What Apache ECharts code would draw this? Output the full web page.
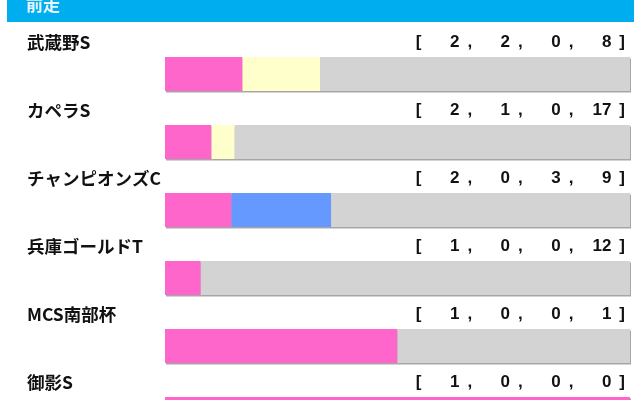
<!DOCTYPE html>
<html><head><meta charset="utf-8">
<script src="https://cdn.jsdelivr.net/npm/echarts@6/dist/echarts.min.js"></script>
<style>html,body{margin:0;padding:0;background:#fff}#c{width:640px;height:400px}</style>
</head><body><div id="c"></div>
<script>
const title = '前走';
const races = ['武蔵野S', 'カペラS', 'チャンピオンズC', '兵庫ゴールドT', 'MCS南部杯', '御影S'];
const firsts = [2, 2, 2, 1, 1, 1];
const seconds = [2, 1, 0, 0, 0, 0];
const thirds = [0, 0, 3, 0, 0, 0];
const others = [8, 17, 9, 12, 1, 0];
const seriesNames = ['1着', '2着', '3着', '着外'];
const colors = ['#FF66CC', '#FFFFCC', '#6699FF', '#D3D3D3'];

const totals = races.map((_, i) => firsts[i] + seconds[i] + thirds[i] + others[i]);
const pct = arr => arr.map((v, i) => v / totals[i] * 100);
const groups = [firsts, seconds, thirds, others];

const pad2 = v => (String(v).length < 2 ? '\u2007' : '') + v;
const recFmt = v => {
  const i = races.indexOf(v);
  return '{b|[}{f|' + pad2(firsts[i]) + '}{c|,}{n|' + pad2(seconds[i]) + '}{c|,}{n|' + pad2(thirds[i]) + '}{c|,}{n|' + pad2(others[i]) + '}{e|]}';
};
const recStyle = { fontFamily: 'Liberation Sans', fontWeight: 'bold', fontSize: 17, color: '#111' };
const chart = echarts.init(document.getElementById('c'));
chart.setOption({
  animation: false,
  graphic: [{ type: 'rect', shape: { x: 7, y: 0, width: 627, height: 22 }, style: { fill: '#00AEEF' } }],
  title: { text: title, left: 21, top: -9, textStyle: { color: '#EAF6FF', fontSize: 17, fontWeight: 'bold', fontFamily: 'Noto Sans CJK JP' } },
  grid: { left: 165, width: 465, top: 40, height: 408, outerBoundsMode: 'none', containLabel: false },
  xAxis: { type: 'value', min: 0, max: 100, show: false },
  yAxis: [{
    type: 'category', data: races, inverse: true,
    axisLine: { show: false }, axisTick: { show: false }, splitLine: { show: false },
    axisLabel: { interval: 0, align: 'left', margin: 138, verticalAlign: 'middle', padding: [0, 0, 64, 0],
      formatter: v => '{t|' + v + '}',
      rich: { t: { fontFamily: 'Noto Sans CJK JP', fontWeight: 'bold', fontSize: 17.5, color: '#111' } } }
  }, {
    type: 'category', data: races, inverse: true, position: 'right',
    axisLine: { show: false }, axisTick: { show: false }, splitLine: { show: false },
    axisLabel: { interval: 0, align: 'right', margin: -5, verticalAlign: 'middle', padding: [0, 0, 64, 0],
      formatter: recFmt,
      rich: {
        b: Object.assign({}, recStyle),
        f: Object.assign({ padding: [0, 0, 0, 19] }, recStyle),
        n: Object.assign({ padding: [0, 0, 0, 19] }, recStyle),
        c: Object.assign({ padding: [0, 0, 0, 8] }, recStyle),
        e: Object.assign({ padding: [0, 0, 0, 8] }, recStyle)
      }
    }
  }],
  series: groups.map((g, k) => ({
    type: 'bar', name: seriesNames[k], stack: 'all', data: pct(g), barWidth: 34,
    itemStyle: { color: colors[k], shadowColor: 'rgba(0,0,0,0.35)', shadowOffsetX: 1, shadowOffsetY: 1.5, shadowBlur: 0 },
    silent: true
  }))
});
</script></body></html>
